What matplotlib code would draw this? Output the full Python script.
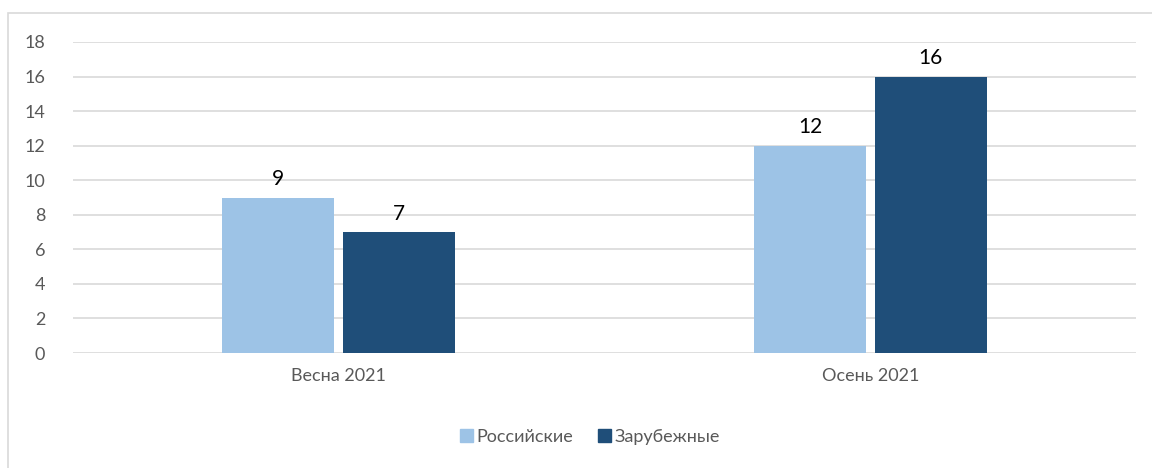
import matplotlib.pyplot as plt
from matplotlib.patches import Rectangle, Patch

categories = ["Весна 2021", "Осень 2021"]
series_names = ["Российские", "Зарубежные"]
russian = [9, 12]
foreign = [7, 16]
yticks = [0, 2, 4, 6, 8, 10, 12, 14, 16, 18]

COL = {"light": "#9DC3E6", "dark": "#1F4E79", "grid": "#D9D9D9", "text": "#595959"}

plt.rcParams["font.family"] = ["Lato", "DejaVu Sans"]

fig = plt.figure(figsize=(11.52, 4.68), dpi=100)
fig.patches.append(
    Rectangle((8 / 1152, -0.1), 1.2, 1.1 - 13 / 468, transform=fig.transFigure,
              fill=False, edgecolor=COL["grid"], linewidth=1.2)
)
ax = fig.add_axes([73 / 1152, 1 - 353 / 468, (1136 - 73) / 1152, (353 - 42) / 468])

w = 0.211
gap = 0.008
xs = range(len(categories))
b1 = ax.bar([x - w / 2 - gap for x in xs], russian, width=w, color=COL["light"], label=series_names[0])
b2 = ax.bar([x + w / 2 + gap for x in xs], foreign, width=w, color=COL["dark"], label=series_names[1])
for bars in (b1, b2):
    for b in bars:
        ax.annotate(f"{b.get_height():g}", (b.get_x() + b.get_width() / 2, b.get_height()),
                    xytext=(0, 6), textcoords="offset points", ha="center", va="bottom",
                    fontsize=15, color="black")

ax.set_xlim(-0.5, 1.5)
ax.set_ylim(0, 18)
ax.set_yticks(yticks)
ax.set_xticks(list(xs))
ax.set_xticklabels(categories)
ax.grid(axis="y", color=COL["grid"], linewidth=1.2)
ax.set_axisbelow(True)
for s in ax.spines.values():
    s.set_visible(False)
ax.tick_params(length=0, labelsize=13, labelcolor=COL["text"])
ax.tick_params(axis="y", pad=20)
ax.tick_params(axis="x", pad=11)

handles = [Patch(color=COL["light"]), Patch(color=COL["dark"])]
fig.legend(handles, series_names, loc="center", bbox_to_anchor=(590 / 1152, 1 - 437 / 468),
           ncol=2, frameon=False, fontsize=13, handlelength=0.7, handleheight=0.7,
           handletextpad=0.2, columnspacing=1.4, labelcolor=COL["text"])

fig.savefig("out.png", dpi=100)
